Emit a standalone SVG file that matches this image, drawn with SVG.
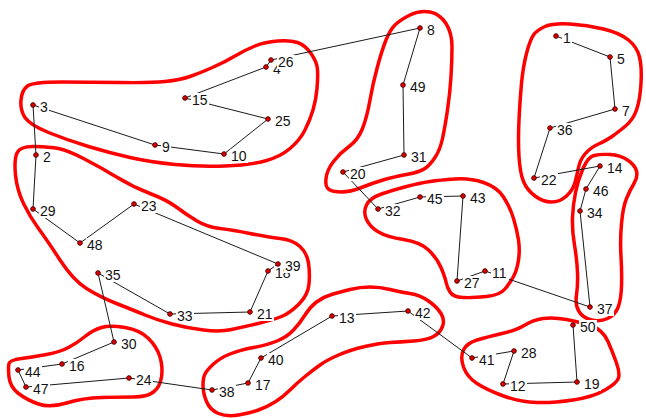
<svg xmlns="http://www.w3.org/2000/svg" width="646" height="418" viewBox="0 0 646 418">
<style>
.c{fill:none;stroke:#ff0000;stroke-width:3.5;stroke-linejoin:round}
.e line{stroke:#1a1a1a;stroke-width:1}
.n circle{fill:#e00000;stroke:#500000;stroke-width:1}
.n rect{fill:#ffffff}
.n text{font-family:"Liberation Sans",Arial,sans-serif;font-size:14px;fill:#111111}
</style>
<rect width="646" height="418" fill="#ffffff"/>
<g id="clusters">
<path id="cluster1" class="c" d="M27.5,86 Q33,82 61.5,82 Q90,82 120,82.5 Q150,83 165,81.5 Q180,80 190,76.5 Q200,73 212.5,67.5 Q225,62 235,56 Q245,50 255,46 Q265,42 277.5,41 Q290,40 297.5,42.5 Q305,45 311,53.5 Q317,62 317.5,69.5 Q318,77 317,88.5 Q316,100 313,110 Q310,120 305,130 Q300,140 290,148.5 Q280,157 265,161 Q250,165 225,166 Q200,167 175,164.5 Q150,162 130,157.5 Q110,153 88.5,146.5 Q67,140 48.5,132.5 Q30,125 25,117.5 Q20,110 21,100 Q22,90 27.5,86 Z"/>
<path id="cluster2" class="c" d="M17,153 Q20,146 35,146.5 Q50,147 58.5,148.5 Q67,150 83.5,158.5 Q100,167 116.5,177 Q133,187 150,193.5 Q167,200 177,207.5 Q187,215 197,221 Q207,227 220,228.5 Q233,230 250,233.5 Q267,237 280,238.5 Q293,240 300,246.5 Q307,253 308.5,263 Q310,273 309,284 Q308,295 299,304 Q290,313 281.5,316.5 Q273,320 258,323.5 Q243,327 231.5,329.5 Q220,332 203.5,330 Q187,328 172,324 Q157,320 145,315 Q133,310 116.5,303.5 Q100,297 86.5,288.5 Q73,280 60,260 Q47,240 38.5,228.5 Q30,217 23.5,203.5 Q17,190 15.5,175 Q14,160 17,153 Z"/>
<path id="cluster3" class="c" d="M9,363.5 Q10,360 21.5,358.5 Q33,357 46.5,354.5 Q60,352 68.5,347.5 Q77,343 85,336.5 Q93,330 101.5,327.5 Q110,325 125,327.5 Q140,330 148.5,338.5 Q157,347 160,357 Q163,367 161.5,377 Q160,387 153.5,392 Q147,397 133.5,397 Q120,397 101.5,397.5 Q83,398 66.5,403 Q50,408 38.5,404 Q27,400 18.5,393.5 Q10,387 9,377 Q8,367 9,363.5 Z"/>
<path id="cluster4" class="c" d="M205,374 Q207,370 213.5,364 Q220,358 230,354 Q240,350 253.5,347.5 Q267,345 277,341 Q287,337 293.5,330 Q300,323 305,315 Q310,307 316.5,302 Q323,297 331.5,294.5 Q340,292 350,289.5 Q360,287 370,287 Q380,287 390,289.5 Q400,292 410,293.5 Q420,295 428.5,301 Q437,307 441,313.5 Q445,320 442.5,326.5 Q440,333 433.5,336.5 Q427,340 413.5,341 Q400,342 390,342.5 Q380,343 365,346.5 Q350,350 338.5,355 Q327,360 320,365 Q313,370 305,376.5 Q297,383 290,390 Q283,397 275,402 Q267,407 258.5,410 Q250,413 238.5,415 Q227,417 218.5,413.5 Q210,410 206.5,401.5 Q203,393 203,385.5 Q203,378 205,374 Z"/>
<path id="cluster5" class="c" d="M463.5,367 Q460,357 463.5,350 Q467,343 477,340 Q487,337 502,333.5 Q517,330 525,325 Q533,320 543,318.5 Q553,317 566.5,319.5 Q580,322 591.5,326 Q603,330 608,341.5 Q613,353 616.5,363 Q620,373 618.5,378 Q617,383 605,390 Q593,397 573,400 Q553,403 536.5,402.5 Q520,402 503.5,396 Q487,390 477,383.5 Q467,377 463.5,367 Z"/>
<path id="cluster6" class="c" d="M366.5,205 Q370,198 381.5,194 Q393,190 406.5,186.5 Q420,183 430,181.5 Q440,180 455,179 Q470,178 483.5,182.5 Q497,187 503.5,197 Q510,207 513.5,218.5 Q517,230 518.5,240 Q520,250 518.5,260 Q517,270 513.5,276.5 Q510,283 505,289 Q500,295 486.5,296.5 Q473,298 463,297.5 Q453,297 450,292 Q447,287 446,282 Q445,277 441,267.5 Q437,258 428.5,250 Q420,242 403.5,239.5 Q387,237 378.5,232 Q370,227 366.5,219.5 Q363,212 366.5,205 Z"/>
<path id="cluster7" class="c" d="M410,15 Q420,10 430,12 Q440,14 446,23.5 Q452,33 452,46.5 Q452,60 451,76.5 Q450,93 447.5,110 Q445,127 442.5,138.5 Q440,150 435,157.5 Q430,165 425,168.5 Q420,172 406.5,174.5 Q393,177 383,180 Q373,183 361.5,187.5 Q350,192 341.5,192 Q333,192 329,189.5 Q325,187 326,178.5 Q327,170 333.5,161.5 Q340,153 349,146.5 Q358,140 362.5,128.5 Q367,117 370,100 Q373,83 377.5,66.5 Q382,50 386,40 Q390,30 395,25 Q400,20 410,15 Z"/>
<path id="cluster8" class="c" d="M526.5,53.5 Q530,40 533.5,35 Q537,30 545,26.5 Q553,23 570,24 Q587,25 603.5,29 Q620,33 628.5,40 Q637,47 639.5,57 Q642,67 641,83.5 Q640,100 636.5,110 Q633,120 625,126.5 Q617,133 612,136.5 Q607,140 598.5,144 Q590,148 585,154 Q580,160 578.5,167.5 Q577,175 575,182.5 Q573,190 566.5,196 Q560,202 551.5,202 Q543,202 535,196 Q527,190 523.5,181.5 Q520,173 519,156.5 Q518,140 519,120 Q520,100 521.5,83.5 Q523,67 526.5,53.5 Z"/>
<path id="cluster9" class="c" d="M583,168.5 Q588,157 594,155.5 Q600,154 610,154.5 Q620,155 627.5,160 Q635,165 636.5,171 Q638,177 634,183.5 Q630,190 626.5,198.5 Q623,207 621.5,223.5 Q620,240 621,256.5 Q622,273 621.5,286.5 Q621,300 618,307.5 Q615,315 607.5,318.5 Q600,322 591.5,320 Q583,318 579,311.5 Q575,305 576.5,295 Q578,285 577.5,272.5 Q577,260 574.5,245 Q572,230 572.5,217.5 Q573,205 575.5,192.5 Q578,180 583,168.5 Z"/>
</g>
<g id="connectors" class="e">
<line x1="556" y1="36" x2="610" y2="57"/>
<line x1="610" y1="57" x2="615" y2="109"/>
<line x1="615" y1="109" x2="550" y2="128"/>
<line x1="550" y1="128" x2="534" y2="178"/>
<line x1="534" y1="178" x2="600" y2="166"/>
<line x1="600" y1="166" x2="586" y2="189"/>
<line x1="586" y1="189" x2="580" y2="211"/>
<line x1="580" y1="211" x2="590" y2="307"/>
<line x1="590" y1="307" x2="485" y2="271"/>
<line x1="485" y1="271" x2="457" y2="281"/>
<line x1="457" y1="281" x2="463" y2="196"/>
<line x1="463" y1="196" x2="420" y2="197"/>
<line x1="420" y1="197" x2="378" y2="209"/>
<line x1="378" y1="209" x2="343" y2="172"/>
<line x1="343" y1="172" x2="404" y2="155"/>
<line x1="404" y1="155" x2="403" y2="85"/>
<line x1="403" y1="85" x2="420" y2="28"/>
<line x1="420" y1="28" x2="271" y2="60"/>
<line x1="271" y1="60" x2="266" y2="67"/>
<line x1="266" y1="67" x2="185" y2="98"/>
<line x1="185" y1="98" x2="268" y2="119"/>
<line x1="268" y1="119" x2="224" y2="154"/>
<line x1="224" y1="154" x2="155" y2="145"/>
<line x1="155" y1="145" x2="33" y2="105"/>
<line x1="33" y1="105" x2="36" y2="155"/>
<line x1="36" y1="155" x2="33" y2="209"/>
<line x1="33" y1="209" x2="80" y2="243"/>
<line x1="80" y1="243" x2="134" y2="204"/>
<line x1="134" y1="204" x2="278" y2="264"/>
<line x1="278" y1="264" x2="268" y2="271"/>
<line x1="268" y1="271" x2="250" y2="312"/>
<line x1="250" y1="312" x2="170" y2="314"/>
<line x1="170" y1="314" x2="98" y2="273"/>
<line x1="98" y1="273" x2="114" y2="342"/>
<line x1="114" y1="342" x2="62" y2="364"/>
<line x1="62" y1="364" x2="18" y2="370"/>
<line x1="18" y1="370" x2="26" y2="387"/>
<line x1="26" y1="387" x2="129" y2="378"/>
<line x1="129" y1="378" x2="212" y2="390"/>
<line x1="212" y1="390" x2="248" y2="383"/>
<line x1="248" y1="383" x2="261" y2="358"/>
<line x1="261" y1="358" x2="332" y2="316"/>
<line x1="332" y1="316" x2="408" y2="311"/>
<line x1="408" y1="311" x2="472" y2="358"/>
<line x1="472" y1="358" x2="514" y2="351"/>
<line x1="514" y1="351" x2="503" y2="384"/>
<line x1="503" y1="384" x2="577" y2="382"/>
<line x1="577" y1="382" x2="573" y2="325"/>
</g>
<g id="nodes">
<g id="n1" class="n"><circle cx="556" cy="36" r="2.3"/><rect x="562" y="31" width="10" height="14"/><text x="563" y="43">1</text></g>
<g id="n2" class="n"><circle cx="36" cy="155" r="2.3"/><rect x="42" y="150" width="10" height="14"/><text x="43" y="162">2</text></g>
<g id="n3" class="n"><circle cx="33" cy="105" r="2.3"/><rect x="39" y="100" width="10" height="14"/><text x="40" y="112">3</text></g>
<g id="n4" class="n"><circle cx="266" cy="67" r="2.3"/><rect x="272" y="62" width="10" height="14"/><text x="273" y="74">4</text></g>
<g id="n5" class="n"><circle cx="610" cy="57" r="2.3"/><rect x="616" y="52" width="10" height="14"/><text x="617" y="64">5</text></g>
<g id="n7" class="n"><circle cx="615" cy="109" r="2.3"/><rect x="621" y="104" width="10" height="14"/><text x="622" y="116">7</text></g>
<g id="n8" class="n"><circle cx="420" cy="28" r="2.3"/><rect x="426" y="23" width="10" height="14"/><text x="427" y="35">8</text></g>
<g id="n9" class="n"><circle cx="155" cy="145" r="2.3"/><rect x="161" y="140" width="10" height="14"/><text x="162" y="152">9</text></g>
<g id="n10" class="n"><circle cx="224" cy="154" r="2.3"/><rect x="230" y="149" width="18" height="14"/><text x="231" y="161">10</text></g>
<g id="n11" class="n"><circle cx="485" cy="271" r="2.3"/><rect x="491" y="266" width="18" height="14"/><text x="492" y="278">11</text></g>
<g id="n12" class="n"><circle cx="503" cy="384" r="2.3"/><rect x="509" y="379" width="18" height="14"/><text x="510" y="391">12</text></g>
<g id="n13" class="n"><circle cx="332" cy="316" r="2.3"/><rect x="338" y="311" width="18" height="14"/><text x="339" y="323">13</text></g>
<g id="n14" class="n"><circle cx="600" cy="166" r="2.3"/><rect x="606" y="161" width="18" height="14"/><text x="607" y="173">14</text></g>
<g id="n15" class="n"><circle cx="185" cy="98" r="2.3"/><rect x="191" y="93" width="18" height="14"/><text x="192" y="105">15</text></g>
<g id="n16" class="n"><circle cx="62" cy="364" r="2.3"/><rect x="68" y="359" width="18" height="14"/><text x="69" y="371">16</text></g>
<g id="n17" class="n"><circle cx="248" cy="383" r="2.3"/><rect x="254" y="378" width="18" height="14"/><text x="255" y="390">17</text></g>
<g id="n18" class="n"><circle cx="268" cy="271" r="2.3"/><rect x="274" y="266" width="18" height="14"/><text x="275" y="278">18</text></g>
<g id="n19" class="n"><circle cx="577" cy="382" r="2.3"/><rect x="583" y="377" width="18" height="14"/><text x="584" y="389">19</text></g>
<g id="n20" class="n"><circle cx="343" cy="172" r="2.3"/><rect x="349" y="167" width="18" height="14"/><text x="350" y="179">20</text></g>
<g id="n21" class="n"><circle cx="250" cy="312" r="2.3"/><rect x="256" y="307" width="18" height="14"/><text x="257" y="319">21</text></g>
<g id="n22" class="n"><circle cx="534" cy="178" r="2.3"/><rect x="540" y="173" width="18" height="14"/><text x="541" y="185">22</text></g>
<g id="n23" class="n"><circle cx="134" cy="204" r="2.3"/><rect x="140" y="199" width="18" height="14"/><text x="141" y="211">23</text></g>
<g id="n24" class="n"><circle cx="129" cy="378" r="2.3"/><rect x="135" y="373" width="18" height="14"/><text x="136" y="385">24</text></g>
<g id="n25" class="n"><circle cx="268" cy="119" r="2.3"/><rect x="274" y="114" width="18" height="14"/><text x="275" y="126">25</text></g>
<g id="n26" class="n"><circle cx="271" cy="60" r="2.3"/><rect x="277" y="55" width="18" height="14"/><text x="278" y="67">26</text></g>
<g id="n27" class="n"><circle cx="457" cy="281" r="2.3"/><rect x="463" y="276" width="18" height="14"/><text x="464" y="288">27</text></g>
<g id="n28" class="n"><circle cx="514" cy="351" r="2.3"/><rect x="520" y="346" width="18" height="14"/><text x="521" y="358">28</text></g>
<g id="n29" class="n"><circle cx="33" cy="209" r="2.3"/><rect x="39" y="204" width="18" height="14"/><text x="40" y="216">29</text></g>
<g id="n30" class="n"><circle cx="114" cy="342" r="2.3"/><rect x="120" y="337" width="18" height="14"/><text x="121" y="349">30</text></g>
<g id="n31" class="n"><circle cx="404" cy="155" r="2.3"/><rect x="410" y="150" width="18" height="14"/><text x="411" y="162">31</text></g>
<g id="n32" class="n"><circle cx="378" cy="209" r="2.3"/><rect x="384" y="204" width="18" height="14"/><text x="385" y="216">32</text></g>
<g id="n33" class="n"><circle cx="170" cy="314" r="2.3"/><rect x="176" y="309" width="18" height="14"/><text x="177" y="321">33</text></g>
<g id="n34" class="n"><circle cx="580" cy="211" r="2.3"/><rect x="586" y="206" width="18" height="14"/><text x="587" y="218">34</text></g>
<g id="n35" class="n"><circle cx="98" cy="273" r="2.3"/><rect x="104" y="268" width="18" height="14"/><text x="105" y="280">35</text></g>
<g id="n36" class="n"><circle cx="550" cy="128" r="2.3"/><rect x="556" y="123" width="18" height="14"/><text x="557" y="135">36</text></g>
<g id="n37" class="n"><circle cx="590" cy="307" r="2.3"/><rect x="596" y="302" width="18" height="14"/><text x="597" y="314">37</text></g>
<g id="n38" class="n"><circle cx="212" cy="390" r="2.3"/><rect x="218" y="385" width="18" height="14"/><text x="219" y="397">38</text></g>
<g id="n39" class="n"><circle cx="278" cy="264" r="2.3"/><rect x="284" y="259" width="18" height="14"/><text x="285" y="271">39</text></g>
<g id="n40" class="n"><circle cx="261" cy="358" r="2.3"/><rect x="267" y="353" width="18" height="14"/><text x="268" y="365">40</text></g>
<g id="n41" class="n"><circle cx="472" cy="358" r="2.3"/><rect x="478" y="353" width="18" height="14"/><text x="479" y="365">41</text></g>
<g id="n42" class="n"><circle cx="408" cy="311" r="2.3"/><rect x="414" y="306" width="18" height="14"/><text x="415" y="318">42</text></g>
<g id="n43" class="n"><circle cx="463" cy="196" r="2.3"/><rect x="469" y="191" width="18" height="14"/><text x="470" y="203">43</text></g>
<g id="n44" class="n"><circle cx="18" cy="370" r="2.3"/><rect x="24" y="365" width="18" height="14"/><text x="25" y="377">44</text></g>
<g id="n45" class="n"><circle cx="420" cy="197" r="2.3"/><rect x="426" y="192" width="18" height="14"/><text x="427" y="204">45</text></g>
<g id="n46" class="n"><circle cx="586" cy="189" r="2.3"/><rect x="592" y="184" width="18" height="14"/><text x="593" y="196">46</text></g>
<g id="n47" class="n"><circle cx="26" cy="387" r="2.3"/><rect x="32" y="382" width="18" height="14"/><text x="33" y="394">47</text></g>
<g id="n48" class="n"><circle cx="80" cy="243" r="2.3"/><rect x="86" y="238" width="18" height="14"/><text x="87" y="250">48</text></g>
<g id="n49" class="n"><circle cx="403" cy="85" r="2.3"/><rect x="409" y="80" width="18" height="14"/><text x="410" y="92">49</text></g>
<g id="n50" class="n"><circle cx="573" cy="325" r="2.3"/><rect x="579" y="320" width="18" height="14"/><text x="580" y="332">50</text></g>
</g>
</svg>
